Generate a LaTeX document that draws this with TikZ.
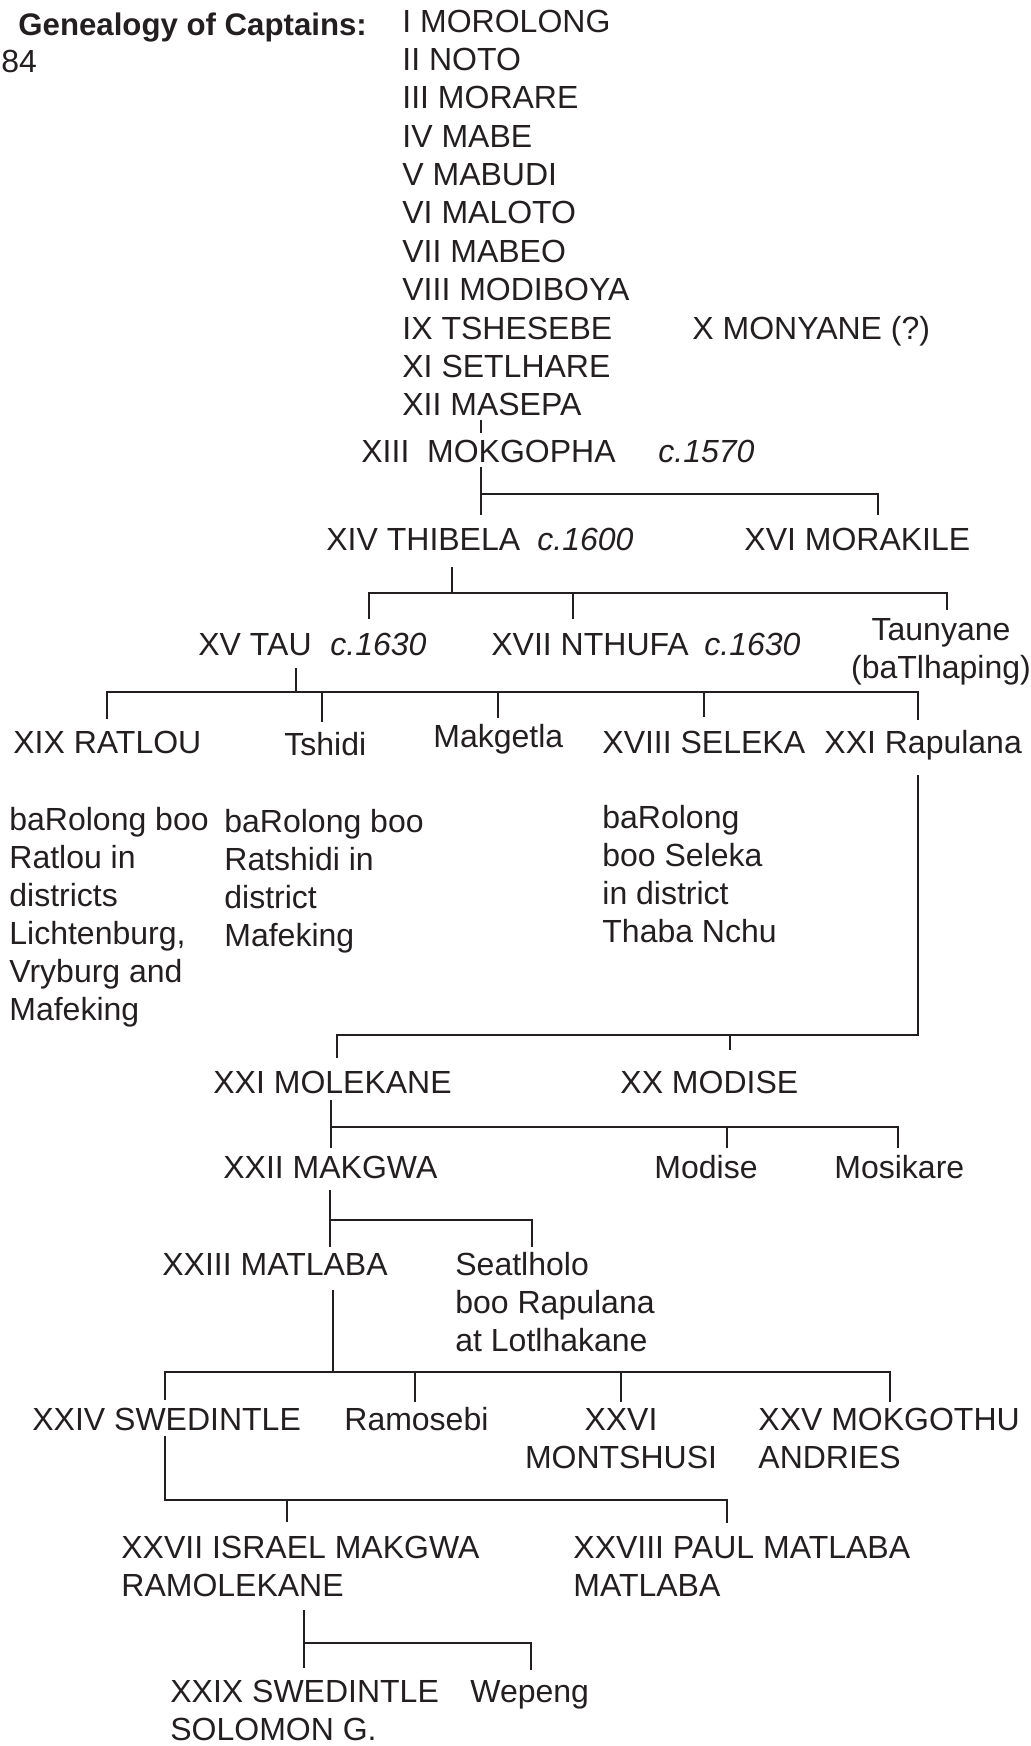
\documentclass[tikz,border=0pt]{standalone}
\usepackage{fontspec}
\setmainfont{Liberation Sans}
\definecolor{ink}{HTML}{231F20}
\newcommand\basefont{\fontsize{16}{19}\selectfont}
\tikzset{
  capt/.style={anchor=base west, inner sep=0pt, align=left, text=ink},
  capc/.style={anchor=base, inner sep=0pt, align=center, text=ink},
  date/.style={capt, font=\basefont\itshape},
  tree/.style={line width=1.3pt, draw=ink}
}
\begin{document}
\begin{tikzpicture}[x=0.5pt, y=-0.5pt, every node/.append style={font=\basefont}]
\useasboundingbox (0,0) rectangle (1031,1746);
% nodes (multi-line ones sit on their last baseline)

\node[capt, font=\fontsize{15.6}{18}\selectfont\bfseries] (title) at (18,35) {Genealogy of Captains:};
\node[capt] (page) at (1,72) {84};

\node[capt] (c1) at (402,32) {I MOROLONG};
\node[capt] (c2) at (402,70) {II NOTO};
\node[capt] (c3) at (402,108) {III MORARE};
\node[capt] (c4) at (402,147) {IV MABE};
\node[capt] (c5) at (402,185) {V MABUDI};
\node[capt] (c6) at (402,223) {VI MALOTO};
\node[capt] (c7) at (402,262) {VII MABEO};
\node[capt] (c8) at (402,300) {VIII MODIBOYA};
\node[capt] (c9) at (402,339) {IX TSHESEBE};
\node[capt] (c10) at (692,339) {X MONYANE (?)};
\node[capt] (c11) at (402,377) {XI SETLHARE};
\node[capt] (c12) at (402,415) {XII MASEPA};

\node[capt] (c13) at (361,462) {XIII\ \ MOKGOPHA};
\node[date] (d13) at (658,462) {c.1570};

\node[capt] (c14) at (326,550) {XIV THIBELA};
\node[date] (d14) at (537,550) {c.1600};
\node[capt] (c16) at (744,550) {XVI MORAKILE};

\node[capt] (c15) at (198,655) {XV TAU};
\node[date] (d15) at (330,655) {c.1630};
\node[capt] (c17) at (491,655) {XVII NTHUFA};
\node[date] (d17) at (704,655) {c.1630};
\node[capc] (taun) at (941,678) {Taunyane\\(baTlhaping)};

\node[capt] (c19) at (13,753) {XIX RATLOU};
\node[capt] (tshidi) at (284,755) {Tshidi};
\node[capt] (makg) at (433,747) {Makgetla};
\node[capt] (c18) at (602,753) {XVIII SELEKA};
\node[capt] (c21r) at (824,753) {XXI Rapulana};

\node[capt] (ratlou) at (9,1020) {baRolong boo\\Ratlou in\\districts\\Lichtenburg,\\Vryburg and\\Mafeking};
\node[capt] (ratshidi) at (224,946) {baRolong boo\\Ratshidi in\\district\\Mafeking};
\node[capt] (seleka) at (602,942) {baRolong\\boo Seleka\\in district\\Thaba Nchu};

\node[capt] (c21) at (213,1093) {XXI MOLEKANE};
\node[capt] (c20) at (620,1093) {XX MODISE};

\node[capt] (c22) at (223,1178) {XXII MAKGWA};
\node[capt] (modise) at (654,1178) {Modise};
\node[capt] (mosikare) at (834,1178) {Mosikare};

\node[capt] (c23) at (162,1275) {XXIII MATLABA};
\node[capt] (seat) at (455,1351) {Seatlholo\\boo Rapulana\\at Lotlhakane};

\node[capt] (c24) at (32,1430) {XXIV SWEDINTLE};
\node[capt] (ramosebi) at (344,1430) {Ramosebi};
\node[capc] (c26) at (621,1468) {XXVI\\MONTSHUSI};
\node[capt] (c25) at (758,1468) {XXV MOKGOTHU\\ANDRIES};

\node[capt] (c27) at (121,1596) {XXVII ISRAEL MAKGWA\\RAMOLEKANE};
\node[capt] (c28) at (573,1596) {XXVIII PAUL MATLABA\\MATLABA};

\node[capt] (c29) at (170,1740) {XXIX SWEDINTLE\\SOLOMON G.};
\node[capt] (wepeng) at (470,1702) {Wepeng};

% line ends
\coordinate (t12) at (481,420);
\coordinate (t13) at (481,433);

\coordinate (p13) at (481,467);
\coordinate (b13) at (481,494);
\coordinate (e13) at (481,515);
\coordinate (e16) at (878,515);

\coordinate (p14) at (452,567);
\coordinate (b14) at (452,593);
\coordinate (e15) at (369,619);
\coordinate (e17) at (573,619);
\coordinate (etaun) at (947,610);

\coordinate (p15) at (296,668);
\coordinate (b15) at (296,692);
\coordinate (e19) at (107,719);
\coordinate (etsh) at (322,722);
\coordinate (emak) at (498,718);
\coordinate (e18) at (704,717);
\coordinate (erap) at (918,720);

\coordinate (prap) at (918,775);
\coordinate (brap) at (918,1035);
\coordinate (e21) at (337,1058);
\coordinate (e20) at (730,1050);

\coordinate (p21) at (331,1100);
\coordinate (b21) at (331,1127);
\coordinate (e22) at (331,1148);
\coordinate (emod) at (727,1148);
\coordinate (emos) at (898,1148);

\coordinate (p22) at (330,1190);
\coordinate (b22) at (330,1220);
\coordinate (e23) at (330,1247);
\coordinate (esea) at (532,1247);

\coordinate (p23) at (333,1290);
\coordinate (b23) at (333,1372);
\coordinate (e24) at (165,1400);
\coordinate (eram) at (415,1402);
\coordinate (e26) at (621,1402);
\coordinate (e25) at (890,1402);

\coordinate (p24) at (165,1436);
\coordinate (b24) at (165,1500);
\coordinate (e27) at (287,1522);
\coordinate (e28) at (727,1523);

\coordinate (p27) at (304,1610);
\coordinate (b27) at (304,1643);
\coordinate (e29) at (304,1668);
\coordinate (ewep) at (531,1670);

% lines
\draw[tree] (t12) -- (t13);

\draw[tree] (p13) -- (e13);
\draw[tree] (b13) -| (e16);

\draw[tree] (p14) -- (b14);
\draw[tree] (e15) |- (b14) -| (etaun);
\draw[tree] (e17) -- (e17 |- b14);

\draw[tree] (p15) -- (b15);
\draw[tree] (e19) |- (b15) -| (erap);
\draw[tree] (etsh) -- (etsh |- b15);
\draw[tree] (emak) -- (emak |- b15);
\draw[tree] (e18) -- (e18 |- b15);

\draw[tree] (prap) -- (brap) -| (e21);
\draw[tree] (e20) -- (e20 |- brap);

\draw[tree] (p21) -- (e22);
\draw[tree] (b21) -| (emos);
\draw[tree] (emod) -- (emod |- b21);

\draw[tree] (p22) -- (e23);
\draw[tree] (b22) -| (esea);

\draw[tree] (p23) -- (b23);
\draw[tree] (e24) |- (b23) -| (e25);
\draw[tree] (eram) -- (eram |- b23);
\draw[tree] (e26) -- (e26 |- b23);

\draw[tree] (p24) -- (b24) -| (e28);
\draw[tree] (e27) -- (e27 |- b24);

\draw[tree] (p27) -- (e29);
\draw[tree] (b27) -| (ewep);

\end{tikzpicture}
\end{document}
